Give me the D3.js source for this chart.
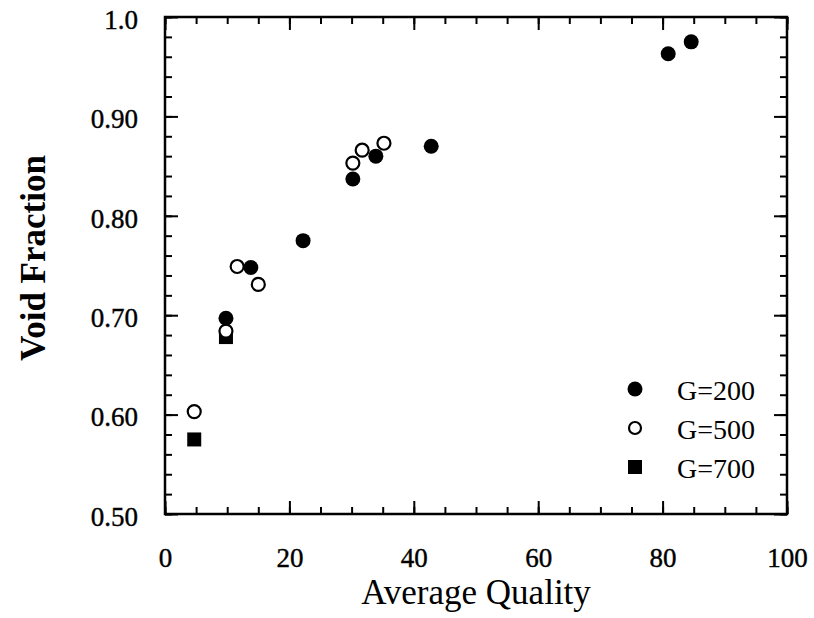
<!DOCTYPE html>
<html>
<head>
<meta charset="utf-8">
<script src="https://cdn.jsdelivr.net/npm/d3@7"></script>
<style>
  body { margin: 0; background: #fff; }
  svg { display: block; font-family: "Liberation Serif", "Times New Roman", serif; }
  .axis path { display: none; }
  .axis line { stroke: #000; stroke-width: 2; }
  .axis text { font-size: 27px; fill: #000; stroke: #000; stroke-width: 0.4px;
    font-family: "Liberation Serif", serif; }
</style>
</head>
<body>
<svg width="814" height="618"></svg>
<script>
// data
const series = ["G=200", "G=500", "G=700"];
const g200X = [9.8, 13.8, 22.2, 30.2, 33.9, 42.8, 80.9, 84.6];
const g200Y = [0.697, 0.748, 0.775, 0.837, 0.860, 0.870, 0.963, 0.975];
const g500X = [4.7, 9.8, 11.6, 15.0, 30.2, 31.7, 35.2];
const g500Y = [0.603, 0.684, 0.749, 0.731, 0.853, 0.866, 0.873];
const g700X = [4.7, 9.8];
const g700Y = [0.575, 0.678];

const xTicks = [0, 20, 40, 60, 80, 100];
const yTicks = [0.5, 0.6, 0.7, 0.8, 0.9, 1.0];
const yTickLabels = ["0.50", "0.60", "0.70", "0.80", "0.90", "1.0"];
const xMinor = d3.range(0, 101, 5);
const yMinor = d3.range(0.5, 1.001, 0.02);

const padL = 165, padR = 787, padT = 17, padB = 514;

let x = d3.scaleLinear().domain([0, 100]).range([padL, padR]);
let y = d3.scaleLinear().domain([0.5, 1.0]).range([padB, padT]);

let svg = d3.select("svg");

// minor ticks (inward) on all four sides
svg.append("g").attr("class", "axis")
  .attr("transform", "translate(0," + padB + ")")
  .call(d3.axisBottom(x).tickValues(xMinor).tickSize(-7).tickFormat(""));
svg.append("g").attr("class", "axis")
  .attr("transform", "translate(0," + padT + ")")
  .call(d3.axisTop(x).tickValues(xMinor).tickSize(-7).tickFormat(""));
svg.append("g").attr("class", "axis")
  .attr("transform", "translate(" + padL + ",0)")
  .call(d3.axisLeft(y).tickValues(yMinor).tickSize(-7).tickFormat(""));
svg.append("g").attr("class", "axis")
  .attr("transform", "translate(" + padR + ",0)")
  .call(d3.axisRight(y).tickValues(yMinor).tickSize(-7).tickFormat(""));

// major ticks with labels
svg.append("g").attr("class", "axis")
  .attr("transform", "translate(0," + padB + ")")
  .call(d3.axisBottom(x).tickValues(xTicks).tickSize(-13).tickPadding(53))
  .selectAll("text").attr("dy", "0");
svg.append("g").attr("class", "axis")
  .attr("transform", "translate(0," + padT + ")")
  .call(d3.axisTop(x).tickValues(xTicks).tickSize(-13).tickFormat(""));
svg.append("g").attr("class", "axis")
  .attr("transform", "translate(" + padL + ",0)")
  .call(d3.axisLeft(y).tickValues(yTicks).tickSize(-13).tickPadding(27)
    .tickFormat(function (d, i) { return yTickLabels[i]; }))
  .selectAll("text").attr("dy", "0.42em");
svg.append("g").attr("class", "axis")
  .attr("transform", "translate(" + padR + ",0)")
  .call(d3.axisRight(y).tickValues(yTicks).tickSize(-13).tickFormat(""));

// frame
svg.append("rect")
  .attr("x", padL).attr("y", padT)
  .attr("width", padR - padL).attr("height", padB - padT)
  .attr("fill", "none").attr("stroke", "#000").attr("stroke-width", 2.5);

// G=700 squares
svg.append("g").selectAll("rect")
  .data(d3.range(g700X.length))
  .enter().append("rect")
  .attr("x", function (i) { return x(g700X[i]) - 7; })
  .attr("y", function (i) { return y(g700Y[i]) - 7; })
  .attr("width", 14).attr("height", 14)
  .attr("fill", "#000");

// G=500 open circles
svg.append("g").selectAll("circle")
  .data(d3.range(g500X.length))
  .enter().append("circle")
  .attr("cx", function (i) { return x(g500X[i]); })
  .attr("cy", function (i) { return y(g500Y[i]); })
  .attr("r", 6.5)
  .attr("fill", "#fff").attr("stroke", "#000").attr("stroke-width", 2.2);

// G=200 filled circles
svg.append("g").selectAll("circle")
  .data(d3.range(g200X.length))
  .enter().append("circle")
  .attr("cx", function (i) { return x(g200X[i]); })
  .attr("cy", function (i) { return y(g200Y[i]); })
  .attr("r", 7.5)
  .attr("fill", "#000");

// legend
let legend = svg.append("g").selectAll("g")
  .data(series)
  .enter().append("g")
  .attr("transform", function (d, i) { return "translate(635," + (389 + i * 39) + ")"; });

legend.each(function (d, i) {
  let g = d3.select(this);
  if (i === 0) g.append("circle").attr("r", 7.5).attr("fill", "#000");
  if (i === 1) g.append("circle").attr("r", 6).attr("fill", "#fff")
    .attr("stroke", "#000").attr("stroke-width", 2.2);
  if (i === 2) g.append("rect").attr("x", -7).attr("y", -7)
    .attr("width", 14).attr("height", 14).attr("fill", "#000");
  g.append("text").attr("x", 42).attr("y", 11)
    .style("font-size", "28px").text(d);
});

// axis titles
svg.append("text")
  .attr("x", 476).attr("y", 604)
  .attr("text-anchor", "middle")
  .style("font-size", "35px")
  .text("Average Quality");

svg.append("text")
  .attr("transform", "translate(45,258) rotate(-90)")
  .attr("text-anchor", "middle")
  .style("font-size", "35px").style("font-weight", "bold")
  .text("Void Fraction");
</script>
</body>
</html>
